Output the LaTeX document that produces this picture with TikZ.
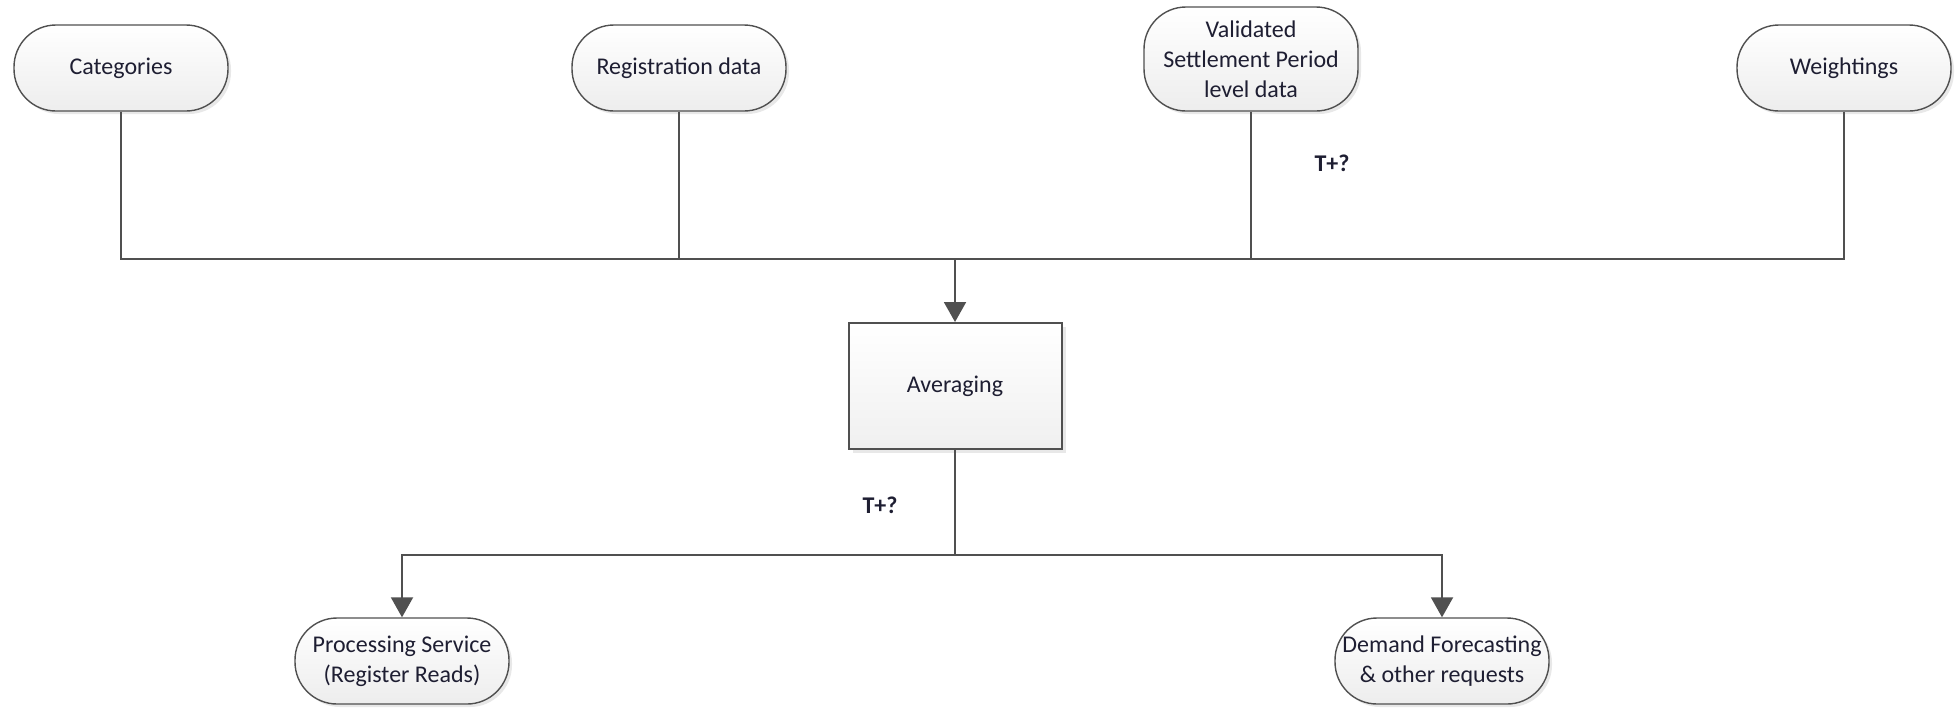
\documentclass[tikz,border=0pt]{standalone}
\usepackage{fontspec}
\setmainfont{Carlito}
\usepackage{tikz}
\usetikzlibrary{positioning,shadows,arrows.meta}

\definecolor{linegrey}{RGB}{80,80,80}
\definecolor{textnavy}{RGB}{30,30,50}

\tikzset{
  pill/.style={draw=linegrey, line width=0.7pt, rounded corners=21pt,
    minimum width=107pt, minimum height=43pt, inner xsep=1pt, inner ysep=2pt,
    top color=white, bottom color=black!7,
    drop shadow={shadow xshift=1.5pt, shadow yshift=-1.5pt, opacity=0.18},
    align=center, text=textnavy, font=\fontsize{12}{15}\selectfont},
  procbox/.style={draw=linegrey, line width=1pt,
    minimum width=106.5pt, minimum height=63pt,
    top color=white, bottom color=black!6,
    drop shadow={shadow xshift=2pt, shadow yshift=-2pt, opacity=0.18},
    text=textnavy, font=\fontsize{12}{15}\selectfont},
  link/.style={draw=linegrey, line width=1pt},
  flow/.style={link, -{Triangle[width=11pt,length=10pt]}},
  tlabel/.style={text=textnavy, font=\bfseries\fontsize{12}{15}\selectfont}
}

\begin{document}
\begin{tikzpicture}[x=0.5pt,y=0.5pt,yscale=-1,xscale=1]
    \useasboundingbox (0,0) rectangle (1957,707);

    % inputs
    \node[pill] (cat) at (121,68) {Categories};
    \node[pill] (reg) at (679,68) {Registration data};
    \node[pill, minimum height=52pt] (val) at (1251,59) {Validated\\Settlement Period\\level data};
    \node[pill] (wgt) at (1844,68) {Weightings};

    % process and outputs
    \node[procbox] (avg) at (955,386) {Averaging};
    \node[pill] (proc) at (402,661) {Processing Service\\(Register Reads)};
    \node[pill] (dem) at (1442,661) {Demand Forecasting\\\& other requests};

    \coordinate (inbus) at (955,259);
    \coordinate (outbus) at (955,555);

    \draw[link] (cat.south) |- (inbus);
    \draw[link] (reg.south) |- (inbus);
    \draw[link] (val.south) |- (inbus);
    \draw[link] (wgt.south) |- (inbus);
    \draw[flow] (inbus) -- (avg.north);

    \draw[link] (avg.south) -- (outbus);
    \draw[flow] (outbus) -| (proc.north);
    \draw[flow] (outbus) -| (dem.north);

    \node[tlabel] (tval) at (1332,163) {T+?};
    \node[tlabel] (tavg) at (880,505) {T+?};
\end{tikzpicture}
\end{document}
